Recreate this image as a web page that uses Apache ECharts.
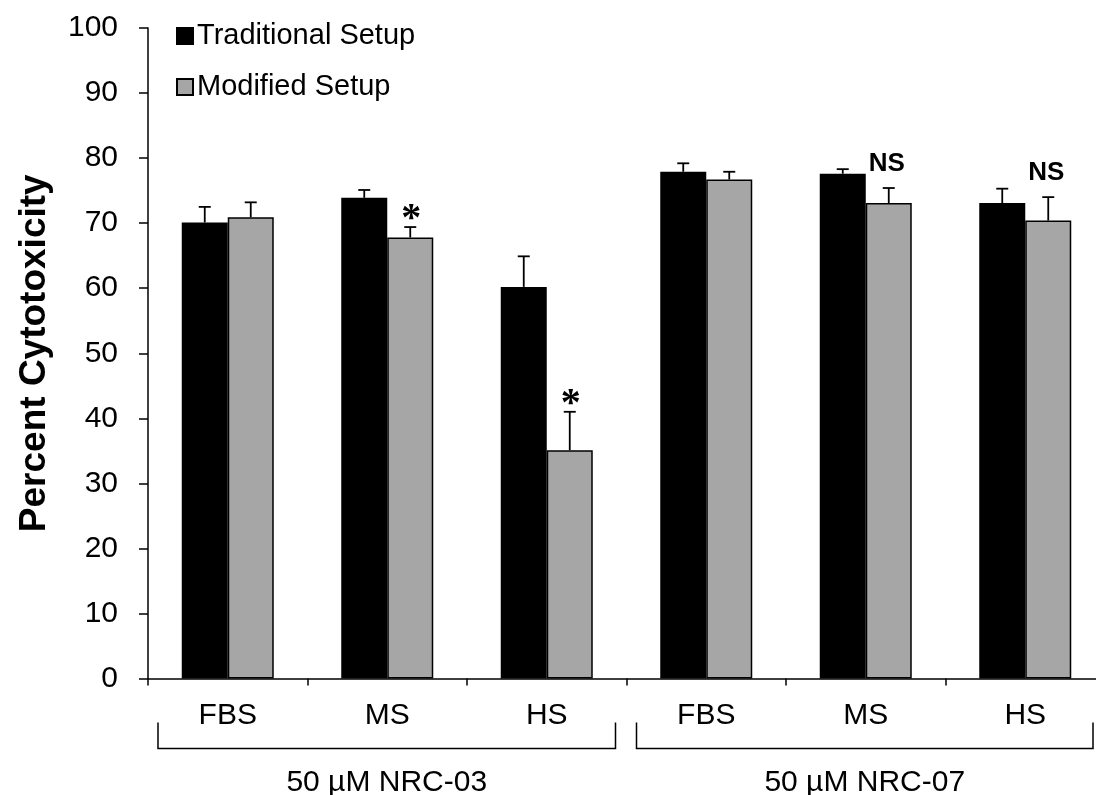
<!DOCTYPE html>
<html>
<head>
<meta charset="utf-8">
<script src="https://cdn.jsdelivr.net/npm/echarts@6/dist/echarts.min.js"></script>
<style>
  html, body { margin: 0; padding: 0; background: #fff; }
  #chart { width: 1096px; height: 795px; }
</style>
</head>
<body>
<div id="chart"></div>
<script>
const categories = ['FBS', 'MS', 'HS', 'FBS', 'MS', 'HS'];
const groups = ['50 µM NRC-03', '50 µM NRC-07'];
const groupSize = 3;
const traditional = [70.1, 73.9, 60.2, 77.9, 77.6, 73.1];
const traditionalErr = [2.4, 1.2, 4.7, 1.3, 0.7, 2.2];
const modified = [70.9, 67.8, 35.1, 76.7, 73.1, 70.4];
const modifiedErr = [2.3, 1.6, 5.9, 1.2, 2.3, 3.6];
const marks = ['', '*', '*', '', 'NS', 'NS'];
const yMin = 0, yMax = 100, yStep = 10;

const FONT = 'Liberation Sans, Arial, sans-serif';
const BAR_W = 46;
const CAP = 12;

function errSeries(values, errs, offset, labels) {
  return {
    type: 'custom',
    silent: true,
    z: 5,
    data: values.map((v, i) => [i, v, v + errs[i]]),
    encode: { x: 0, y: [1, 2] },
    renderItem: function (params, api) {
      const i = api.value(0);
      const lo = api.coord([i, api.value(1)]);
      const hi = api.coord([i, api.value(2)]);
      const x = lo[0] + offset;
      const children = [
        { type: 'line', shape: { x1: x, y1: lo[1], x2: x, y2: hi[1] }, style: { stroke: '#000', lineWidth: 1.8 } },
        { type: 'line', shape: { x1: x - CAP / 2, y1: hi[1], x2: x + CAP / 2, y2: hi[1] }, style: { stroke: '#000', lineWidth: 1.8 } }
      ];
      const lab = labels ? labels[params.dataIndex] : '';
      if (lab) {
        const star = lab === '*';
        children.push({
          type: 'text',
          style: {
            x: x + (star ? 1 : -2),
            y: hi[1] - (star ? 7 : 24),
            text: lab,
            fill: '#000',
            font: star ? 'bold 40px Liberation Serif, Times New Roman, serif' : 'bold 26px ' + FONT,
            align: 'center',
            verticalAlign: 'middle'
          }
        });
      }
      return { type: 'group', children: children };
    }
  };
}

const chart = echarts.init(document.getElementById('chart'), null, { renderer: 'canvas' });
chart.setOption({
  animation: false,
  backgroundColor: '#ffffff',
  textStyle: { fontFamily: FONT },
  grid: { left: 148, width: 957, top: 28, height: 650.5, containLabel: false, outerBoundsMode: 'none' },
  legend: {
    orient: 'vertical',
    left: 171,
    top: 16,
    itemWidth: 16,
    itemHeight: 16,
    itemGap: 21,
    icon: 'rect',
    data: ['Traditional Setup', 'Modified Setup'],
    textStyle: { fontSize: 29, color: '#000', fontFamily: FONT, lineHeight: 30, padding: [0, 0, 0, -1] }
  },
  xAxis: {
    type: 'category',
    data: categories,
    axisLine: { lineStyle: { color: '#000', width: 1.5 } },
    axisTick: { show: true, length: 7, lineStyle: { color: '#000', width: 1.5 } },
    axisLabel: { color: '#000', fontSize: 30, margin: 22, fontFamily: FONT },
    splitLine: { show: false }
  },
  yAxis: {
    type: 'value',
    min: yMin,
    max: yMax,
    interval: yStep,
    name: 'Percent Cytotoxicity',
    nameLocation: 'middle',
    nameRotate: 90,
    nameGap: 95,
    nameTextStyle: { fontSize: 37, fontWeight: 'bold', color: '#000', fontFamily: FONT },
    axisLine: { show: true, lineStyle: { color: '#000', width: 1.5 } },
    axisTick: { show: true, length: 9, lineStyle: { color: '#000', width: 1.5 } },
    axisLabel: { color: '#000', fontSize: 30, margin: 30, fontFamily: FONT },
    splitLine: { show: false }
  },
  series: [
    {
      name: 'Traditional Setup',
      type: 'bar',
      data: traditional,
      barWidth: BAR_W,
      barGap: '0%',
      itemStyle: { color: '#000000', borderColor: '#000000', borderWidth: 1.5 }
    },
    {
      name: 'Modified Setup',
      type: 'bar',
      data: modified,
      barWidth: BAR_W,
      barGap: '0%',
      itemStyle: { color: '#a6a6a6', borderColor: '#000000', borderWidth: 1.5 }
    },
    errSeries(traditional, traditionalErr, -BAR_W / 2, null),
    errSeries(modified, modifiedErr, BAR_W / 2, marks),
    {
      type: 'custom',
      silent: true,
      data: groups.map((g, i) => [i * groupSize, 0]),
      encode: { x: 0, y: 1 },
      renderItem: function (params, api) {
        const band = api.size([1, 0])[0];
        const start = api.coord([api.value(0), 0]);
        const end = api.coord([api.value(0) + groupSize - 1, 0]);
        const base = start[1];
        const x1 = start[0] - band / 2 + 10;
        const x2 = Math.min(end[0] + band / 2 - 11, api.getWidth() - 3);
        const yTop = base + 44, yBot = base + 70;
        return {
          type: 'group',
          children: [
            { type: 'polyline', shape: { points: [[x1, yTop], [x1, yBot], [x2, yBot], [x2, yTop]] }, style: { stroke: '#000', lineWidth: 1.5, fill: null } },
            { type: 'text', style: { x: (x1 + x2) / 2, y: base + 104, text: groups[params.dataIndex], fill: '#000', font: '30px ' + FONT, align: 'center', verticalAlign: 'middle' } }
          ]
        };
      }
    }
  ]
});
</script>
</body>
</html>
